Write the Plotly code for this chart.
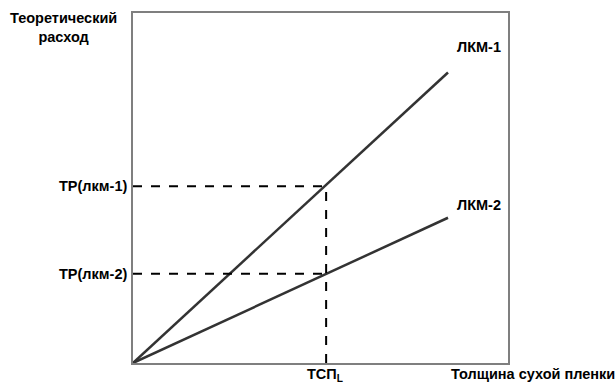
import plotly.graph_objects as go

# Data (axis units 0..10)
series_names = ["ЛКМ-1", "ЛКМ-2"]
x_start = [0, 0]
x_end = [8.4, 8.4]
y_start = [0, 0]
y_end = [8.3, 4.15]
tsp_x = 5.15
tr_values = [5.05, 2.55]
tr_labels = ["TP(лкм-1)", "TP(лкм-2)"]
x_axis_title = "Толщина сухой пленки"
y_axis_title = "Теоретический<br>расход"
tsp_label = "ТСП<sub>L</sub>"

W, H = 616, 387
PX0, PX1, PY0, PY1 = 133, 508, 13, 363  # plot frame in page pixels
L, R, T, B = PX0, W - PX1, PY0, H - PY1


def px(xp):
    return (xp - PX0) / (PX1 - PX0)


def py(yp):
    return (PY1 - yp) / (PY1 - PY0)


fig = go.Figure()
for i, name in enumerate(series_names):
    fig.add_trace(go.Scatter(
        x=[x_start[i], x_end[i]], y=[y_start[i], y_end[i]],
        mode="lines", line=dict(color="#333333", width=2.5),
        showlegend=False, hoverinfo="skip"))

# dashed guides
for v in tr_values:
    fig.add_trace(go.Scatter(
        x=[0, tsp_x], y=[v, v], mode="lines",
        line=dict(color="black", width=2, dash="dash"),
        showlegend=False, hoverinfo="skip"))
fig.add_trace(go.Scatter(
    x=[tsp_x, tsp_x], y=[0, max(tr_values)], mode="lines",
    line=dict(color="black", width=2, dash="dash"),
    showlegend=False, hoverinfo="skip"))

font = dict(family="Liberation Sans, Arial, sans-serif", size=14.5, color="black")
ann = []
for v, lab in zip(tr_values, tr_labels):
    ann.append(dict(x=px(129), y=v, xref="paper", yref="y", text="<b>%s</b>" % lab,
                    showarrow=False, xanchor="right", yanchor="middle", font=font))
for name, yp in zip(series_names, [47, 205]):
    ann.append(dict(x=px(503), y=py(yp), xref="paper", yref="paper",
                    text="<b>%s</b>" % name, showarrow=False,
                    xanchor="right", yanchor="middle", font=font))
ann.append(dict(x=px(325), y=py(375), xref="paper", yref="paper",
                text="<b>%s</b>" % tsp_label, showarrow=False,
                xanchor="center", yanchor="middle", font=font))
ann.append(dict(x=px(449), y=py(374), xref="paper", yref="paper",
                text="<b>%s</b>" % x_axis_title, showarrow=False,
                xanchor="left", yanchor="middle", font=font))
ann.append(dict(x=px(63), y=py(27), xref="paper", yref="paper",
                text="<b>%s</b>" % y_axis_title, showarrow=False,
                xanchor="center", yanchor="middle", font=font))

fig.update_layout(
    width=W, height=H,
    margin=dict(l=L, r=R, t=T, b=B),
    paper_bgcolor="white", plot_bgcolor="white",
    xaxis=dict(range=[0, 10], showgrid=False, zeroline=False, showticklabels=False,
               ticks="", showline=True, mirror=True, linecolor="#7f7f7f", linewidth=1.5),
    yaxis=dict(range=[0, 10], showgrid=False, zeroline=False, showticklabels=False,
               ticks="", showline=True, mirror=True, linecolor="#7f7f7f", linewidth=1.5),
    annotations=ann,
)
fig.write_html("out.html", config={"displayModeBar": False},
               post_script="document.body.style.margin='0';document.body.style.overflow='hidden';")
